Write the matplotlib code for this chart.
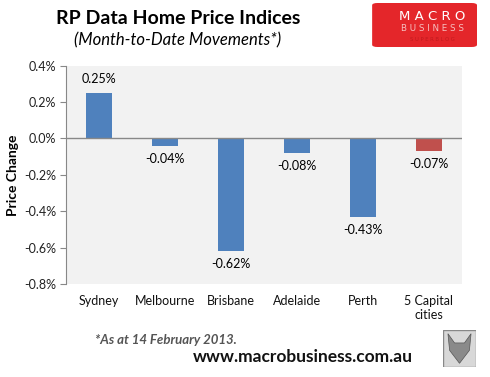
import matplotlib
matplotlib.use("Agg")
import matplotlib.pyplot as plt
from matplotlib.patches import FancyBboxPatch, Rectangle, Polygon

categories = ["Sydney", "Melbourne", "Brisbane", "Adelaide", "Perth", "5 Capital\ncities"]
values = [0.25, -0.04, -0.62, -0.08, -0.43, -0.07]
colors = ["#4f81bd"] * 5 + ["#c0504d"]
yticks = [0.4, 0.2, 0.0, -0.2, -0.4, -0.6, -0.8]

FONT = ["Lato", "DejaVu Sans"]
plt.rcParams["font.family"] = FONT

fig = plt.figure(figsize=(4.9, 3.77), dpi=100)
fig.patch.set_facecolor("white")
ax = fig.add_axes([66/490, 1-284/377, (462-66)/490, (284-65.7)/377])
ax.set_facecolor("#f2f2f2")

x = list(range(len(categories)))
ax.bar(x, values, width=0.4, color=colors, zorder=3)
ax.set_xlim(-0.5, len(categories) - 0.5)
ax.set_ylim(-0.8, 0.4)
ax.set_yticks(yticks)
ax.set_yticklabels([f"{v:.1f}%" for v in yticks], fontsize=9, color="#222222")
ax.tick_params(axis="y", direction="out", length=4, color="#888888", pad=3)
ax.set_xticks([])
for s in ["top", "right", "bottom"]:
    ax.spines[s].set_visible(False)
ax.spines["left"].set_color("#888888")
ax.axhline(0, color="#888888", lw=1, zorder=4)
ax.set_ylabel("Price Change", fontsize=10, fontweight="bold", labelpad=4)

for xi, v in zip(x, values):
    if v >= 0:
        ax.annotate(f"{v:.2f}%", (xi, v), xytext=(0, 6), textcoords="offset points",
                    ha="center", va="bottom", fontsize=9)
    else:
        ax.annotate(f"{v:.2f}%", (xi, v), xytext=(0, -5), textcoords="offset points",
                    ha="center", va="top", fontsize=9)

for xi, c in zip(x, categories):
    ax.annotate(c, (xi, -0.8), xytext=(0, -8), textcoords="offset points",
                ha="center", va="top", fontsize=9, linespacing=1.15, color="#111111")

fig.text(178/490, 1-18/377, "RP Data Home Price Indices", ha="center", va="center",
         fontsize=14, fontweight="bold")
fig.text(178/490, 1-40/377, "(Month-to-Date Movements*)", ha="center", va="center",
         fontsize=12, style="italic")
fig.text(95/490, 1-340/377, "*As at 14 February 2013.", ha="left", va="center",
         fontsize=9.5, style="italic", fontweight="bold", color="#555555")
fig.text(303/490, 1-357/377, "www.macrobusiness.com.au", ha="center", va="center",
         fontsize=12.5, fontweight="bold", color="#111111")

# logo
lg = fig.add_axes([370/490, 1-47/377, 107/490, 44/377])
lg.set_xlim(0, 1); lg.set_ylim(0, 1); lg.axis("off")
lg.add_patch(FancyBboxPatch((0.02, 0.0), 0.98, 1.0, boxstyle="round,pad=0,rounding_size=0.05",
                            fc="#e4262a", ec="none"))
lg.text(0.58, 0.70, "M A C R O", ha="center", va="center", color="white", fontsize=9.5,
        family=["DejaVu Sans"])
lg.text(0.58, 0.42, "B U S I N E S S", ha="center", va="center", color="#f5c0c0", fontsize=6.3,
        family=["DejaVu Sans"])
lg.text(0.58, 0.18, "S U P E R B L O G", ha="center", va="center", color="#c01a1e", fontsize=3.8,
        family=["DejaVu Sans"])

fx = fig.add_axes([443/490, 1-367/377, 33/490, 37/377])
fx.set_xlim(0, 1); fx.set_ylim(0, 1); fx.axis("off")
fx.add_patch(Rectangle((0, 0), 1, 1, fc="#d8d8d8", ec="#888888", lw=1))
fx.add_patch(Polygon([(0.15, 0.9), (0.35, 0.65), (0.65, 0.65), (0.85, 0.9), (0.8, 0.45),
                      (0.5, 0.1), (0.2, 0.45)], closed=True, fc="#8a8a8a", ec="#555555", lw=0.5))

fig.savefig("out.png", dpi=100)
